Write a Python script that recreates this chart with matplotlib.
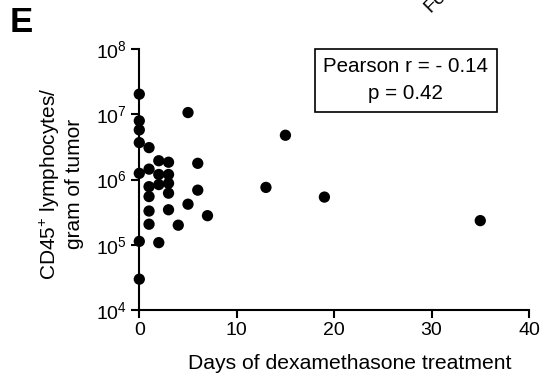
import matplotlib
matplotlib.use("Agg")
import matplotlib.pyplot as plt
import numpy as np

plt.rcParams['font.family'] = ['Liberation Sans', 'DejaVu Sans']
plt.rcParams['mathtext.fontset'] = 'custom'
plt.rcParams['mathtext.rm'] = 'Liberation Sans'
plt.rcParams['mathtext.it'] = 'Liberation Sans:italic'
plt.rcParams['mathtext.bf'] = 'Liberation Sans:bold'

# days of dexamethasone vs CD45+ cells per gram of tumor
days = [0, 0, 0, 0, 0, 0, 0,
        1, 1, 1, 1, 1, 1,
        2, 2, 2, 2,
        3, 3, 3, 3, 3,
        4, 5, 5, 6, 6, 7,
        13, 15, 19, 35]
cells = [2.05e7, 8.0e6, 5.8e6, 3.7e6, 1.25e6, 1.13e5, 2.97e4,
         3.1e6, 1.45e6, 7.8e5, 5.5e5, 3.3e5, 2.07e5,
         1.95e6, 1.2e6, 8.4e5, 1.08e5,
         1.85e6, 1.2e6, 8.8e5, 6.2e5, 3.45e5,
         2.0e5, 4.2e5, 1.07e7, 1.78e6, 6.9e5, 2.8e5,
         7.6e5, 4.8e6, 5.4e5, 2.35e5]
xticks = [0, 10, 20, 30, 40]
yticks = [1e4, 1e5, 1e6, 1e7, 1e8]
stats_text = "Pearson r = - 0.14\np = 0.42"

fig = plt.figure(figsize=(5.48, 3.81), dpi=100)
ax = fig.add_axes([0.2542, 0.1864, 0.7111, 0.6842])

ax.scatter(days, cells, s=66, color='black', edgecolors='none', clip_on=False, zorder=3)

ax.set_yscale('log')
ax.set_xlim(0, 40)
ax.set_ylim(1e4, 1e8)
ax.set_xticks(xticks)
ax.set_yticks(yticks)
ax.yaxis.set_minor_locator(matplotlib.ticker.NullLocator())
ax.tick_params(axis='both', which='major', length=6, width=1.5, labelsize=14, color='black', pad=3)

for s in ['top', 'right']:
    ax.spines[s].set_visible(False)
for s in ['left', 'bottom']:
    ax.spines[s].set_linewidth(1.5)

ax.set_xlabel("Days of dexamethasone treatment", fontsize=15.2)
ax.xaxis.set_label_coords(0.541, -0.168)
ax.set_ylabel("CD45$^{+}$ lymphocytes/\ngram of tumor", fontsize=15, labelpad=6, linespacing=1.2)
ax.yaxis.set_label_coords(-0.142, 0.485)

ax.text(0.684, 0.881, stats_text, transform=ax.transAxes, ha='center', va='center',
        fontsize=14.8, linespacing=1.55,
        bbox=dict(boxstyle='square,pad=0.4', facecolor='white', edgecolor='black', linewidth=1.2))

fig.text(0.018, 0.985, "E", fontsize=25, fontweight='bold', ha='left', va='top')
fig.text(0.768, 0.995, "Fo", fontsize=14, rotation=45, ha='left', va='center')

fig.savefig("out.png", dpi=100)
